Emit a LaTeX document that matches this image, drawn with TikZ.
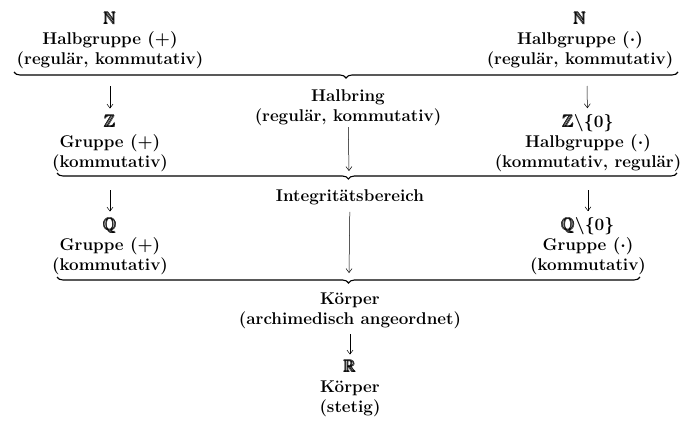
\documentclass[tikz,border=0pt]{standalone}
\usepackage{amsmath, amssymb}
\usepackage{tikz}
\usetikzlibrary{arrows.meta, decorations.pathreplacing}

\newcommand{\bbb}[1]{\pmb{\mathbb{#1}}}

\tikzset{
  blk/.style={align=center,inner sep=1pt,font=\fontsize{17}{20}\selectfont\bfseries\boldmath},
  brc/.style={decorate,decoration={brace,mirror,amplitude=6pt},line width=1.1pt},
  arr/.style={->,line width=0.5pt}
}

\begin{document}
\begin{tikzpicture}[>={Straight Barb[length=4pt,width=6pt]},x=1pt,y=-1pt]
  \useasboundingbox (0,0) rectangle (685,421);
  % erste Stufe
  \node[blk] (nadd) at (110,40) {$\bbb{N}$\\ Halbgruppe $(+)$\\ (regulär, kommutativ)};
  \node[blk] (nmul) at (580,40) {$\bbb{N}$\\ Halbgruppe $(\cdot)$\\ (regulär, kommutativ)};
  \draw[brc] (14,72)--(678,72);
  % zweite Stufe
  \coordinate (a1) at (110,86);
  \coordinate (a2) at (587,86);
  \node[blk] (zadd) at (110,143) {$\bbb{Z}$\\ Gruppe $(+)$\\ (kommutativ)};
  \node[blk] (zmul) at (588,143) {$\bbb{Z}\backslash\{0\}$\\ Halbgruppe $(\cdot)$\\ (kommutativ, regulär)};
  \node[blk] (hring) at (348,108) {Halbring\\ (regulär, kommutativ)};
  \draw[arr,shorten >=5pt] (a1)--(zadd);
  \draw[arr,shorten >=5pt] (a2)--(zmul);
  \coordinate (t2) at (349,171);
  \draw[arr] (hring)--(t2);
  \draw[brc,decoration={aspect=0.47}] (57,173)--(677,173);
  % dritte Stufe
  \node[blk] (ibr) at (350,197) {Integritätsbereich};
  \coordinate (b1) at (110,190);
  \coordinate (b2) at (588,190);
  \node[blk] (qadd) at (110,246) {$\bbb{Q}$\\ Gruppe $(+)$\\ (kommutativ)};
  \node[blk] (qmul) at (588,246) {$\bbb{Q}\backslash\{0\}$\\ Gruppe $(\cdot)$\\ (kommutativ)};
  \draw[arr,shorten >=5pt] (b1)--(qadd);
  \draw[arr,shorten >=5pt] (b2)--(qmul);
  \coordinate (t3) at (349,273);
  \draw[arr,shorten <=6pt] (ibr)--(t3);
  \draw[brc,decoration={aspect=0.5}] (57,277)--(640,277);
  % Koerper
  \node[blk] (krp) at (350,311) {Körper\\ (archimedisch angeordnet)};
  \node[blk] (reell) at (350,388) {$\bbb{R}$\\ Körper\\ (stetig)};
  \draw[arr,shorten <=4pt,shorten >=4pt] (krp)--(reell);
\end{tikzpicture}
\end{document}
